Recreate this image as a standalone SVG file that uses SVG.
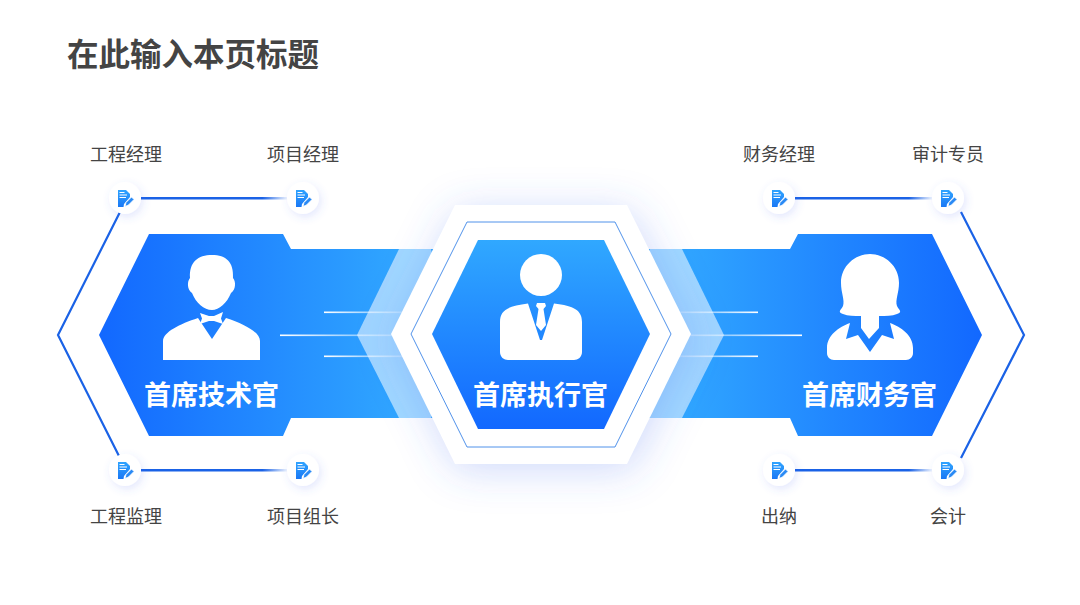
<svg xmlns="http://www.w3.org/2000/svg" xmlns:xlink="http://www.w3.org/1999/xlink" width="1080" height="605" viewBox="0 0 1080 605">
<defs>
<linearGradient id="gl" gradientUnits="userSpaceOnUse" x1="99" y1="0" x2="400" y2="0"><stop offset="0" stop-color="#1268ff"/><stop offset="1" stop-color="#30a6ff"/></linearGradient>
<linearGradient id="gr" gradientUnits="userSpaceOnUse" x1="982" y1="0" x2="682" y2="0"><stop offset="0" stop-color="#1268ff"/><stop offset="1" stop-color="#30a6ff"/></linearGradient>
<linearGradient id="gc" x1="0" y1="0" x2="0" y2="1"><stop offset="0" stop-color="#30a8ff"/><stop offset="1" stop-color="#1268ff"/></linearGradient>
<linearGradient id="fr" x1="0" y1="0" x2="1" y2="0"><stop offset="0" stop-color="#fff"/><stop offset="1" stop-color="#fff" stop-opacity="0.15"/></linearGradient>
<linearGradient id="fl" x1="1" y1="0" x2="0" y2="0"><stop offset="0" stop-color="#fff"/><stop offset="1" stop-color="#fff" stop-opacity="0.15"/></linearGradient>
<linearGradient id="ln" x1="0" y1="0" x2="1" y2="0"><stop offset="0" stop-color="#1a62e6"/><stop offset="0.82" stop-color="#1a62e6"/><stop offset="1" stop-color="#1a62e6" stop-opacity="0"/></linearGradient>
<linearGradient id="dc" x1="0" y1="0" x2="0" y2="1"><stop offset="0" stop-color="#30a4ff"/><stop offset="1" stop-color="#1a78f5"/></linearGradient>
<filter id="sh" x="-40%" y="-40%" width="180%" height="180%"><feGaussianBlur stdDeviation="20"/></filter>
<filter id="ds" x="-60%" y="-60%" width="220%" height="220%"><feDropShadow dx="2" dy="3" stdDeviation="4" flood-color="#4a6cf0" flood-opacity="0.16"/></filter>
<g id="ico">
<circle r="16" fill="#fff" filter="url(#ds)"/>
<path d="M-7,-8 H1 L5,-4 V-1 L-1,6 L-1.500,9 H-7 Z" fill="url(#dc)"/>
<path d="M-5.500,-5.500 H-0.500 M-5.500,-3 H2 M-5.500,-0.500 H1" stroke="#fff" stroke-width="1.100" fill="none"/>
<path d="M0,8.500 L1,4.500 L6.500,-1 L9,1.500 L3.500,7 Z" fill="#2a8af5" stroke="#fff" stroke-width="0.800"/>
</g>
</defs>
<style>
.t{font-family:"Noto Sans CJK SC","Noto Sans",sans-serif;text-anchor:middle}
.lb{font-size:18px;fill:#444}
.nm{font-size:27px;font-weight:700;fill:#fff}
.out{stroke:#1a62e6;stroke-width:2.200;fill:none}
</style>
<rect width="1080" height="605" fill="#fff"/>
<text id="title" x="193" y="65.500" class="t" font-size="31.500" font-weight="700" fill="#444">在此输入本页标题</text>

<g id="node-cto">
<path d="M99,335 L149,234 H283 L291,249 H440 V418 H291 L283,436 H149 Z" fill="url(#gl)"/>
<path d="M399,249 H431 L450,335 L431,418 H399 L357,335 Z" fill="#fff" fill-opacity="0.55"/>
<g fill="#fff">
<path d="M163,360 V341 C163,332 180,324 198,318 L212,339 L226,318 C244,324 260,332 260,341 V360 Z"/>
<path d="M190,278 C189,262 198,255 212,255 C226,255 234,262 233,278 C236,281 236,290 231,293 C227,303 219,310 212,310 C204,310 196,303 192,293 C187,290 187,281 190,278 Z"/>
<path d="M200,313 L209,316 H214 L223,312 L221,318.500 L223,324 L214,321 H209 L200,324 L202,318.500 Z"/>
</g>
<text x="211.500" y="405" class="t nm">首席技术官</text>
</g>

<g id="node-cfo">
<path d="M982,335 L932,234 H798 L790,249 H640 V418 H790 L798,436 H932 Z" fill="url(#gr)"/>
<path d="M682,249 H650 L630,335 L650,418 H682 L724,335 Z" fill="#fff" fill-opacity="0.55"/>
<path fill="#fff" d="M870,254 C885,254 899,266 899,283 C899,293 895,300 897,306 C899,310 903,312 897,314 C892,316 886,316 879,316 V328 L869,339 L861,328 V316 C854,316 848,316 843,314 C837,312 841,310 843,306 C845,300 841,293 841,283 C841,266 855,254 870,254 Z"/>
<path fill="#fff" d="M850,323 L846,339 L858,335 L870,352 L882,335 L894,339 L890,323 C901,327 913,335 913,348 V353 C913,357 910,360 906,360 H834 C830,360 827,357 827,353 V348 C827,335 839,327 850,323 Z"/>
<text x="869.500" y="405" class="t nm">首席财务官</text>
</g>

<g id="connectors">
<rect x="324" y="311.500" width="90" height="1.600" fill="url(#fr)"/>
<rect x="280" y="334.500" width="134" height="1.600" fill="url(#fr)"/>
<rect x="324" y="355.500" width="90" height="1.600" fill="url(#fr)"/>
<rect x="668" y="311.500" width="90" height="1.600" fill="url(#fl)"/>
<rect x="668" y="334.500" width="134" height="1.600" fill="url(#fl)"/>
<rect x="668" y="355.500" width="90" height="1.600" fill="url(#fl)"/>
<path d="M120,212 L58,335 L120,458" class="out"/>
<path d="M961,212 L1024,335 L961,458" class="out"/>
<rect x="141" y="197" width="148" height="2.500" fill="url(#ln)"/>
<rect x="141" y="469" width="148" height="2.500" fill="url(#ln)"/>
<rect x="795" y="197" width="139" height="2.500" fill="url(#ln)"/>
<rect x="795" y="469" width="139" height="2.500" fill="url(#ln)"/>
</g>

<g id="node-ceo">
<path d="M391,334 L455,205 H627 L691,334 L627,464 H455 Z" fill="#4a6cf0" fill-opacity="0.26" filter="url(#sh)" transform="translate(3,6)"/>
<path d="M391,334 L455,205 H627 L691,334 L627,464 H455 Z" fill="#fff"/>
<path d="M411,334 L467,222 H615 L671,334 L615,447 H467 Z" fill="none" stroke="#3d86e8" stroke-width="0.900"/>
<path d="M432,334 L478,240 H604 L650,334 L604,429 H478 Z" fill="url(#gc)"/>
<circle cx="541" cy="275" r="21" fill="#fff"/>
<path fill="#fff" d="M500,322 C500,310 508,306 528,303.500 L540,340 L542,340 L554,303.500 C574,306 582,310 582,322 V352 C582,357 578,360 574,360 H508 C504,360 500,357 500,352 Z"/>
<path fill="#fff" d="M537,303 H545 L546,306 L543.500,309 L546,325 L541,331 L536,325 L538.500,309 L536,306 Z"/>
<text x="540.500" y="405" class="t nm">首席执行官</text>
</g>

<g id="n-gcjl"><use xlink:href="#ico" href="#ico" x="125" y="198"/><text x="126" y="160.500" class="t lb">工程经理</text></g>
<g id="n-xmjl"><use xlink:href="#ico" href="#ico" x="303" y="198"/><text x="303" y="160.500" class="t lb">项目经理</text></g>
<g id="n-gcjianli"><use xlink:href="#ico" href="#ico" x="125" y="470"/><text x="126" y="522.500" class="t lb">工程监理</text></g>
<g id="n-xmzz"><use xlink:href="#ico" href="#ico" x="303" y="470"/><text x="303" y="522.500" class="t lb">项目组长</text></g>
<g id="n-cwjl"><use xlink:href="#ico" href="#ico" x="779" y="198"/><text x="779" y="160.500" class="t lb">财务经理</text></g>
<g id="n-sjzy"><use xlink:href="#ico" href="#ico" x="948" y="198"/><text x="948" y="160.500" class="t lb">审计专员</text></g>
<g id="n-cn"><use xlink:href="#ico" href="#ico" x="779" y="470"/><text x="779" y="522.500" class="t lb">出纳</text></g>
<g id="n-kj"><use xlink:href="#ico" href="#ico" x="948" y="470"/><text x="948" y="522.500" class="t lb">会计</text></g>
</svg>
